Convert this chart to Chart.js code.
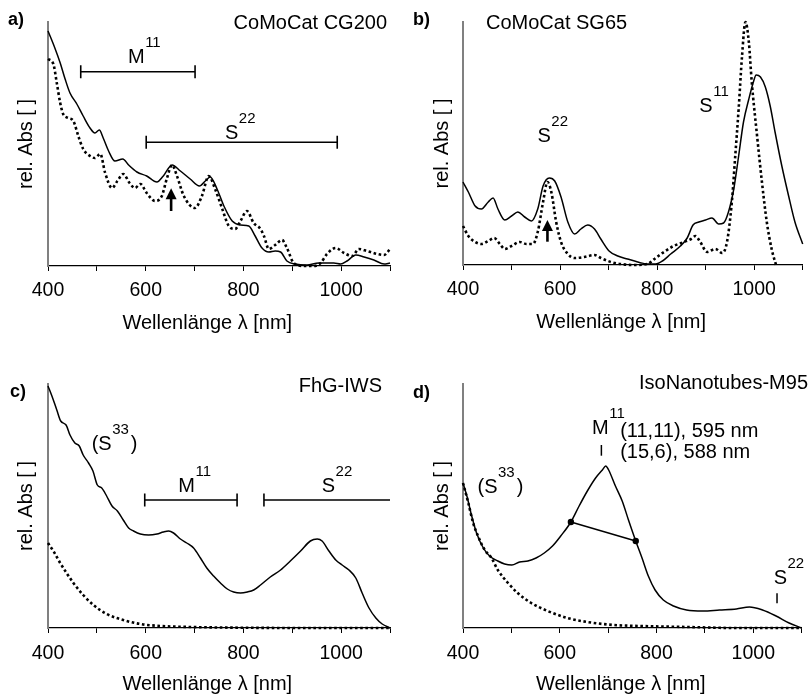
<!DOCTYPE html>
<html><head><meta charset="utf-8">
<script src="https://cdn.jsdelivr.net/npm/chart.js@4.4.1/dist/chart.umd.min.js"></script>
<style>
html,body{margin:0;padding:0;background:#fff;}
#wrap{position:relative;width:811px;height:694px;overflow:hidden;}
canvas{position:absolute;}
</style></head><body>
<div id="wrap">
<canvas id="ca" width="405" height="347" style="left:0;top:0"></canvas>
<canvas id="cb" width="406" height="347" style="left:405px;top:0"></canvas>
<canvas id="cc" width="405" height="347" style="left:0;top:347px"></canvas>
<canvas id="cd" width="406" height="347" style="left:405px;top:347px"></canvas>
</div>
<script>
// ---------- text ----------
const X_TITLE = 'Wellenlänge λ [nm]';
const Y_TITLE = 'rel. Abs [ ]';
const X_TICKS = [400, 600, 800, 1000];
const PANEL_NAMES = ['CoMoCat CG200', 'CoMoCat SG65', 'FhG-IWS', 'IsoNanotubes-M95'];

// ---------- data (relative absorbance, arbitrary units) ----------
// a) CoMoCat CG200
const cg200SolidNm  = [400,414,425,435,445,459,472,486,496,505,513,524,537,553,565,582,602,623,636,654,671,691,710,722,732,746,760,777,794,811,824,838,852,865,876,889,906,930,954,971,985,999,1012,1030,1047,1067,1088,1100];
const cg200SolidAbs = [235,218,203,187,173,162,150,138,133,136,128,115,105,107,101,94,90,84,90,101,95,87,80,85,89,77,60,45,41,40,30,18,14,15,14,5,2,1,3,3,3,2,5,11,9,6,2,3];
const cg200DotNm    = [400,411,418,425,431,442,452,462,472,486,496,507,517,531,542,554,567,578,589,602,619,633,643,654,664,678,701,715,729,742,756,770,783,794,807,821,835,842,852,865,879,889,903,924,944,958,971,989,1006,1023,1036,1053,1074,1088,1100];
const cg200DotAbs   = [207,202,183,163,152,148,145,130,117,110,108,112,93,78,85,92,83,78,82,73,65,70,87,101,90,70,58,70,90,77,58,40,37,45,55,43,37,30,17,21,26,18,3,0,0,3,12,18,13,10,17,15,12,11,17];
// b) CoMoCat SG65
const sg65SolidNm  = [400,411,425,438,452,462,472,486,500,513,527,541,554,565,578,589,602,616,630,643,657,671,684,701,719,739,760,780,797,811,828,848,862,874,886,900,913,927,937,947,958,968,978,989,999,1004,1013,1023,1033,1043,1057,1071,1084,1100];
const sg65SolidAbs = [83,73,59,56,63,67,56,45,49,53,48,44,56,79,87,84,68,43,31,36,40,36,26,14,9,6,3,1,1,4,11,19,27,40,43,45,47,41,42,53,76,109,143,166,184,190,188,178,159,133,99,69,43,21];
const sg65DotNm    = [400,411,425,438,452,464,476,486,500,517,531,544,554,565,574,582,592,602,616,630,650,671,684,705,725,752,780,797,814,834,855,870,879,889,903,920,934,944,954,961,968,975,982,989,995,1006,1016,1026,1036,1045];
const sg65DotAbs   = [39,29,23,21,24,27,21,16,19,23,21,21,33,63,83,73,43,23,11,7,8,10,7,3,1,0,1,7,13,19,23,26,29,23,13,16,12,23,63,109,156,209,243,223,183,129,83,43,16,0];
// c) FhG-IWS
const iwsSolidNm  = [400,408,418,426,437,445,455,464,472,483,492,501,510,520,531,542,554,565,575,589,606,623,636,647,657,671,684,698,712,725,739,753,767,780,794,808,821,835,855,876,896,917,937,951,961,975,989,1002,1016,1030,1043,1057,1071,1084,1100];
const iwsSolidAbs = [242,232,218,207,203,193,185,182,173,165,157,143,140,132,122,117,108,100,97,94,93,94,96,97,95,89,85,80,70,60,52,45,39,36,35,36,38,43,51,58,67,77,87,89,87,77,68,63,58,50,35,20,10,4,0];
const iwsDotNm    = [400,411,425,438,452,472,493,520,554,589,630,691,794,931,1100];
const iwsDotAbs   = [85,77,65,55,45,33,23,14,8,4,2,1,0.3,0,0];
// d) IsoNanotubes-M95
const isoSolidNm  = [400,408,418,428,442,455,472,486,501,517,534,551,568,585,602,623,640,657,674,688,695,701,715,729,742,757,770,783,797,814,835,862,896,930,965,992,1019,1047,1074,1100];
const isoSolidAbs = [145,132,112,95,80,72,67,64,63,66,67,70,75,82,92,106,122,137,150,158,162,158,142,127,108,87,70,52,38,28,22,18,17,18,19,21,18,12,5,0];
const isoDotNm    = [400,411,421,431,445,459,472,493,513,541,575,616,657,712,766,862,965,1100];
const isoDotAbs   = [145,125,105,92,78,70,58,45,35,25,17,10,6,3,2,1,0,0];
const isoFwhmNm   = [623, 757];
const isoFwhmAbs  = [106, 87];

// ---------- drawing ----------
const FONT = "'Liberation Sans', Arial, Helvetica, sans-serif";
Chart.defaults.font.family = FONT;
Chart.defaults.color = '#000';

const pts = (xs, ys) => xs.map((x, i) => ({x: x, y: ys[i]}));

function supLabel(ctx, x, y, pre, main, sup, post) {
  ctx.textAlign = 'left'; ctx.textBaseline = 'alphabetic';
  ctx.font = '20px ' + FONT;
  const s1 = pre + main;
  ctx.fillText(s1, x, y);
  let cx = x + ctx.measureText(s1).width;
  ctx.font = '15px ' + FONT;
  ctx.fillText(sup, cx + 0.5, y - 16);
  cx += ctx.measureText(sup).width + 2.5;
  if (post) { ctx.font = '20px ' + FONT; ctx.fillText(post, cx, y); }
}

function makeAnnot(a) {
  return {
    id: 'annot',
    afterDatasetsDraw(chart) {
      const ctx = chart.ctx, xs = chart.scales.x, ys = chart.scales.y;
      const X = v => xs.getPixelForValue(v), Y = v => ys.getPixelForValue(v);
      ctx.save();
      ctx.fillStyle = '#000'; ctx.strokeStyle = '#000'; ctx.lineCap = 'butt';
      // panel letter
      ctx.font = 'bold 18px ' + FONT; ctx.textAlign = 'left'; ctx.textBaseline = 'alphabetic';
      ctx.fillText(a.letter, a.letterPos[0], a.letterPos[1]);
      // panel name
      ctx.font = '20px ' + FONT; ctx.textAlign = a.nameAlign;
      ctx.fillText(a.name, a.namePos[0], a.namePos[1]);
      // x axis title
      ctx.textAlign = 'center';
      ctx.fillText(xs.options.title.text, X(726), chart.chartArea.bottom + a.xTitleOff);
      // brackets
      ctx.lineWidth = 1.6;
      (a.brackets || []).forEach(b => {
        const x1 = X(b.x1), x2 = X(b.x2), y = Y(b.y);
        ctx.beginPath(); ctx.moveTo(x1, y); ctx.lineTo(x2, y);
        if (b.capL) { ctx.moveTo(x1, y - 6.5); ctx.lineTo(x1, y + 6.5); }
        if (b.capR) { ctx.moveTo(x2, y - 6.5); ctx.lineTo(x2, y + 6.5); }
        ctx.stroke();
      });
      // vertical marks
      ctx.lineWidth = 1.5;
      (a.marks || []).forEach(m => {
        ctx.beginPath(); ctx.moveTo(X(m.x), Y(m.y1)); ctx.lineTo(X(m.x), Y(m.y2)); ctx.stroke();
      });
      // arrows
      (a.arrows || []).forEach(r => {
        const x = X(r.x), yb = Y(r.y1), yt = Y(r.y2), hh = 11, hw = 5.5;
        ctx.lineWidth = 2.6;
        ctx.beginPath(); ctx.moveTo(x, yb); ctx.lineTo(x, yt + hh - 1); ctx.stroke();
        ctx.beginPath(); ctx.moveTo(x, yt); ctx.lineTo(x - hw, yt + hh); ctx.lineTo(x + hw, yt + hh); ctx.closePath(); ctx.fill();
      });
      // superscript labels
      (a.labels || []).forEach(l => supLabel(ctx, X(l.x), Y(l.y), l.pre || '', l.main, l.sup, l.post || ''));
      // plain texts
      ctx.font = '20px ' + FONT; ctx.textAlign = 'left'; ctx.textBaseline = 'alphabetic';
      (a.texts || []).forEach(t => ctx.fillText(t.t, X(t.x), Y(t.y)));
      ctx.restore();
    }
  };
}

function makePanel(id, p) {
  const datasets = [
    {data: pts(p.solid[0], p.solid[1]), borderColor: '#000', borderWidth: 1.5, pointRadius: 0,
     cubicInterpolationMode: 'monotone', clip: false},
    {data: pts(p.dot[0], p.dot[1]), borderColor: '#000', borderWidth: 2.6, borderDash: [2.6, 2.6], pointRadius: 0,
     cubicInterpolationMode: 'monotone', clip: false}
  ];
  if (p.extra) datasets.push(p.extra);
  new Chart(document.getElementById(id), {
    type: 'line',
    data: {datasets: datasets},
    options: {
      responsive: false, animation: false, parsing: false,
      layout: {padding: {top: p.top, right: p.right, left: 0, bottom: 0}},
      plugins: {legend: {display: false}, tooltip: {enabled: false}},
      scales: {
        x: {
          type: 'linear', min: 400, max: 1100,
          ticks: {stepSize: 100, autoSkip: false, maxRotation: 0, padding: p.tickPad, color: '#000',
                  font: {size: 19.5},
                  callback: v => X_TICKS.includes(v) ? String(v) : ''},
          grid: {display: true, drawOnChartArea: false, drawTicks: true, tickLength: 5, color: '#000', lineWidth: 1},
          border: {display: true, color: '#000', width: 1.3},
          title: {display: false, text: X_TITLE},
          afterFit: s => { s.height = p.xh; }
        },
        y: {
          type: 'linear', min: 0, max: p.ymax,
          ticks: {display: false},
          grid: {display: false},
          border: {display: true, color: '#808080', width: 2},
          title: {display: true, text: Y_TITLE, color: '#000', font: {size: 20, lineHeight: 1}, padding: {top: p.ytp, bottom: 0}},
          afterFit: s => { s.width = p.yw; }
        }
      }
    },
    plugins: [makeAnnot(p.annot)]
  });
}

makePanel('ca', {
  solid: [cg200SolidNm, cg200SolidAbs], dot: [cg200DotNm, cg200DotAbs],
  top: 22, right: 15, xh: 81, yw: 48, ymax: 244, ytp: 16, tickPad: 8.3,
  annot: {
    letter: 'a)', letterPos: [8, 25], name: PANEL_NAMES[0], nameAlign: 'right', namePos: [387, 29], xTitleOff: 63,
    brackets: [{x1: 467, x2: 701, y: 194.3, capL: true, capR: true}, {x1: 601, x2: 992, y: 123.7, capL: true, capR: true}],
    arrows: [{x: 652, y1: 55, y2: 77.7}],
    labels: [{x: 563.7, y: 203, main: 'M', sup: '11'}, {x: 762.3, y: 127, main: 'S', sup: '22'}]
  }
});
makePanel('cb', {
  solid: [sg65SolidNm, sg65SolidAbs], dot: [sg65DotNm, sg65DotAbs],
  top: 22, right: 6, xh: 82, yw: 58, ymax: 243, ytp: 27, tickPad: 8.3,
  annot: {
    letter: 'b)', letterPos: [8, 25], name: PANEL_NAMES[1], nameAlign: 'left', namePos: [81, 29], xTitleOff: 63,
    arrows: [{x: 574, y1: 23.3, y2: 45}],
    labels: [{x: 553.5, y: 123.3, main: 'S', sup: '22'}, {x: 887, y: 153.3, main: 'S', sup: '11'}]
  }
});
makePanel('cc', {
  solid: [iwsSolidNm, iwsSolidAbs], dot: [iwsDotNm, iwsDotAbs],
  top: 37, right: 15, xh: 66, yw: 48, ymax: 244, ytp: 16, tickPad: 9.3,
  annot: {
    letter: 'c)', letterPos: [10, 50], name: PANEL_NAMES[2], nameAlign: 'right', namePos: [382, 45], xTitleOff: 61.5,
    brackets: [{x1: 598, x2: 787, y: 128, capL: true, capR: true}, {x1: 842, x2: 1100, y: 128, capL: true, capR: false}],
    labels: [{x: 489.4, y: 178, pre: '(', main: 'S', sup: '33', post: ')'},
             {x: 666.7, y: 136.3, main: 'M', sup: '11'}, {x: 960.2, y: 136.3, main: 'S', sup: '22'}]
  }
});
makePanel('cd', {
  solid: [isoSolidNm, isoSolidAbs], dot: [isoDotNm, isoDotAbs],
  extra: {data: pts(isoFwhmNm, isoFwhmAbs), borderColor: '#000', backgroundColor: '#000', borderWidth: 1.5,
          pointRadius: 3.2, pointBorderWidth: 0, tension: 0, clip: false},
  top: 37, right: 6, xh: 66, yw: 58, ymax: 244, ytp: 27, tickPad: 9.3,
  annot: {
    letter: 'd)', letterPos: [8, 51], name: PANEL_NAMES[3], nameAlign: 'right', namePos: [403, 42], xTitleOff: 61.5,
    marks: [{x: 686, y1: 183, y2: 172.3}, {x: 1049, y1: 34.7, y2: 24.7}],
    labels: [{x: 430, y: 134.7, pre: '(', main: 'S', sup: '33', post: ')'},
             {x: 666.7, y: 194, main: 'M', sup: '11'}, {x: 1042, y: 43.7, main: 'S', sup: '22'}],
    texts: [{t: '(11,11), 595 nm', x: 724.8, y: 191}, {t: '(15,6), 588 nm', x: 724.8, y: 170}]
  }
});
</script>
</body></html>
